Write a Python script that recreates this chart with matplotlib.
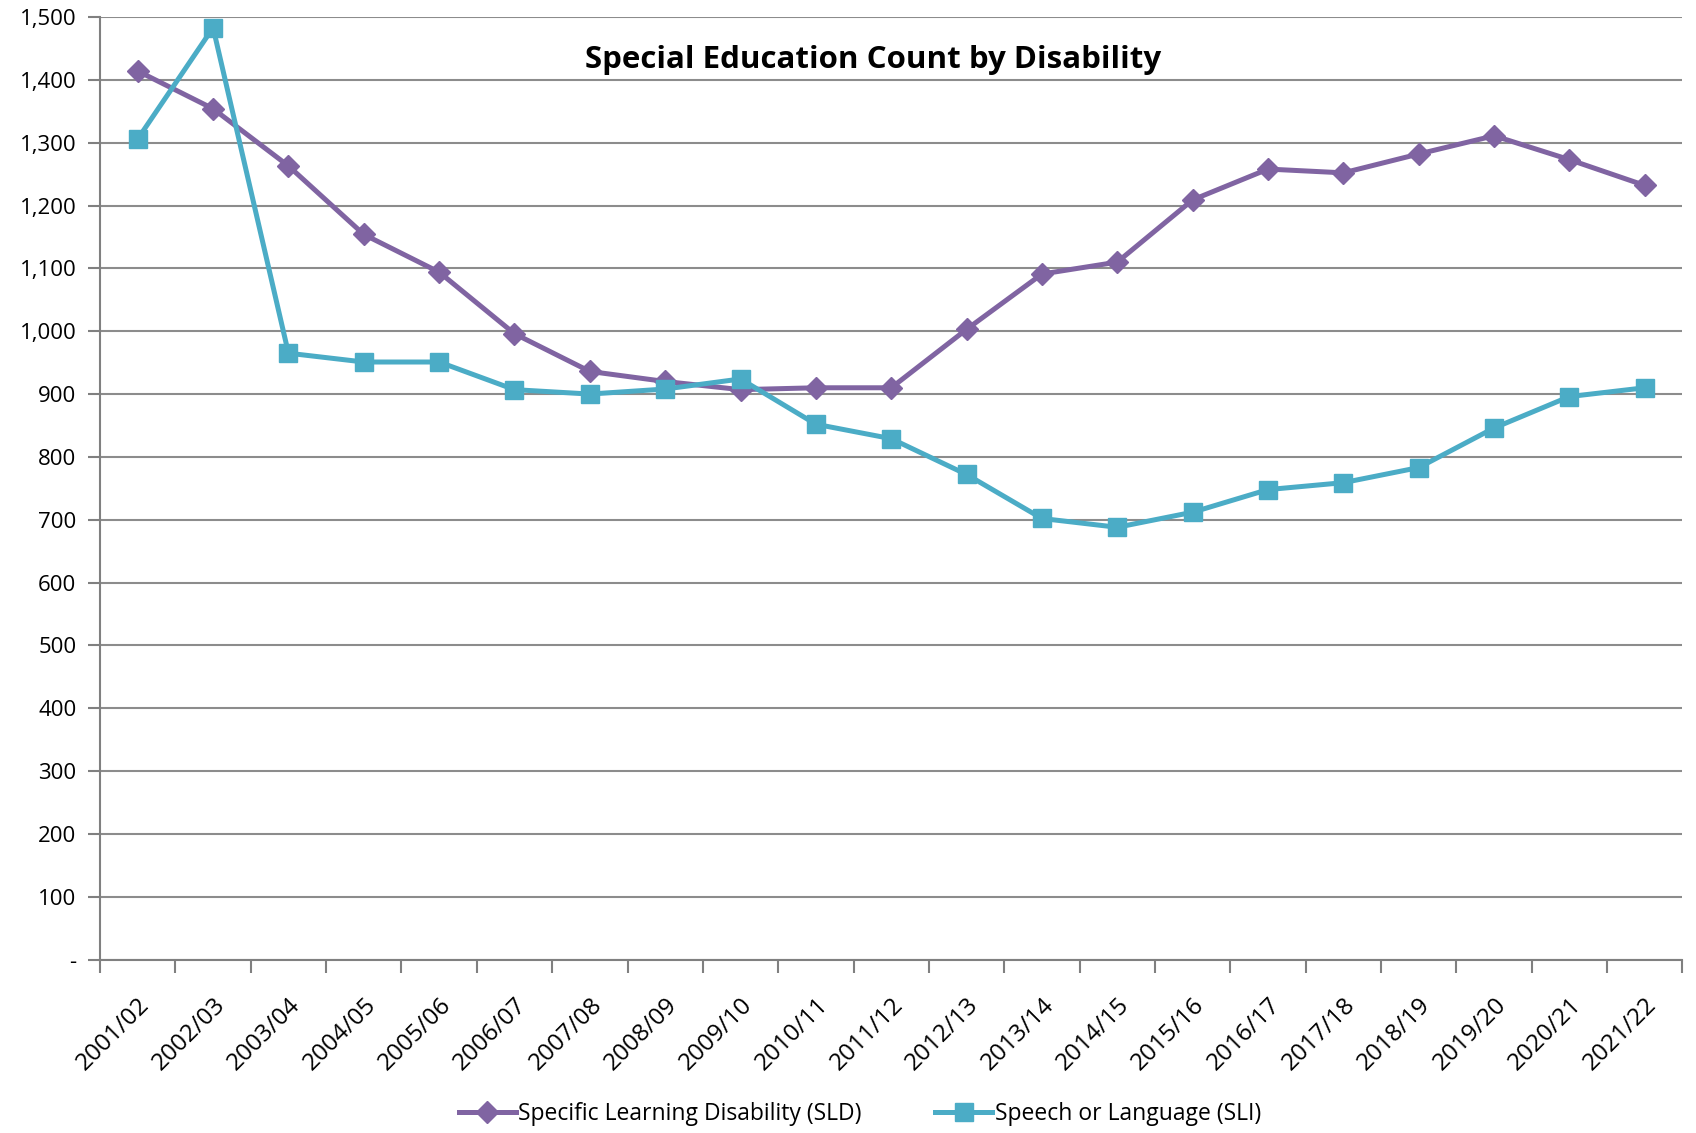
import matplotlib.pyplot as plt
from matplotlib.ticker import FuncFormatter, FixedLocator
from matplotlib.transforms import ScaledTranslation

years = ['2001/02', '2002/03', '2003/04', '2004/05', '2005/06', '2006/07', '2007/08',
         '2008/09', '2009/10', '2010/11', '2011/12', '2012/13', '2013/14', '2014/15',
         '2015/16', '2016/17', '2017/18', '2018/19', '2019/20', '2020/21', '2021/22']
sld = [1414, 1354, 1263, 1154, 1094, 996, 936, 920, 907, 910, 910,
       1003, 1091, 1110, 1209, 1258, 1252, 1282, 1311, 1273, 1232]
sli = [1306, 1483, 965, 951, 951, 907, 900, 908, 924, 852, 829,
       772, 702, 688, 712, 748, 759, 783, 846, 896, 910]
y_ticks = list(range(0, 1501, 100))

plt.rcParams['font.family'] = ['Open Sans', 'DejaVu Sans']

fig = plt.figure(figsize=(16.96, 11.33), dpi=100)
ax = fig.add_axes([0.059, 0.153, 0.933, 0.832])

x = list(range(len(years)))
ax.plot(x, sld, color='#8064A2', lw=3.6, marker='D', ms=11, label='Specific Learning Disability (SLD)')
ax.plot(x, sli, color='#4BACC6', lw=3.6, marker='s', ms=13, label='Speech or Language (SLI)')

ax.set_xlim(-0.5, len(years) - 0.5)
ax.set_ylim(0, 1500)
ax.set_yticks(y_ticks)
ax.yaxis.set_major_formatter(FuncFormatter(lambda v, p: '-' if v == 0 else f'{int(v):,}'))
ax.set_xticks(x)
ax.set_xticklabels(years, rotation=45, ha='right', rotation_mode='anchor', fontsize=17.5)
# nudge the rotated labels a little to the left, like Excel places them
shift = ScaledTranslation(-0.08, 0, fig.dpi_scale_trans)
for lbl in ax.get_xticklabels():
    lbl.set_transform(lbl.get_transform() + shift)
ax.xaxis.set_minor_locator(FixedLocator([i - 0.5 for i in range(len(years) + 1)]))
ax.tick_params(axis='x', which='major', length=0, pad=24)
ax.tick_params(axis='x', which='minor', length=9, color='#808080', width=1.5)
ax.tick_params(axis='y', length=9, color='#808080', width=1.5, labelsize=16, pad=8)

ax.grid(axis='y', color='#8c8c8c', lw=1.5)
ax.set_axisbelow(True)
for s in ['top', 'right']:
    ax.spines[s].set_visible(False)
for s in ['left', 'bottom']:
    ax.spines[s].set_color('#808080')
    ax.spines[s].set_linewidth(1.5)

fig.text(0.515, 0.947, 'Special Education Count by Disability', ha='center', va='center',
         fontsize=22.5, fontweight='bold')
fig.legend(loc='center', bbox_to_anchor=(0.507, 0.017), ncol=2, frameon=False,
           fontsize=16.5, handlelength=2.5, columnspacing=3.2, handletextpad=0.1)

fig.savefig('out.png', dpi=100)
